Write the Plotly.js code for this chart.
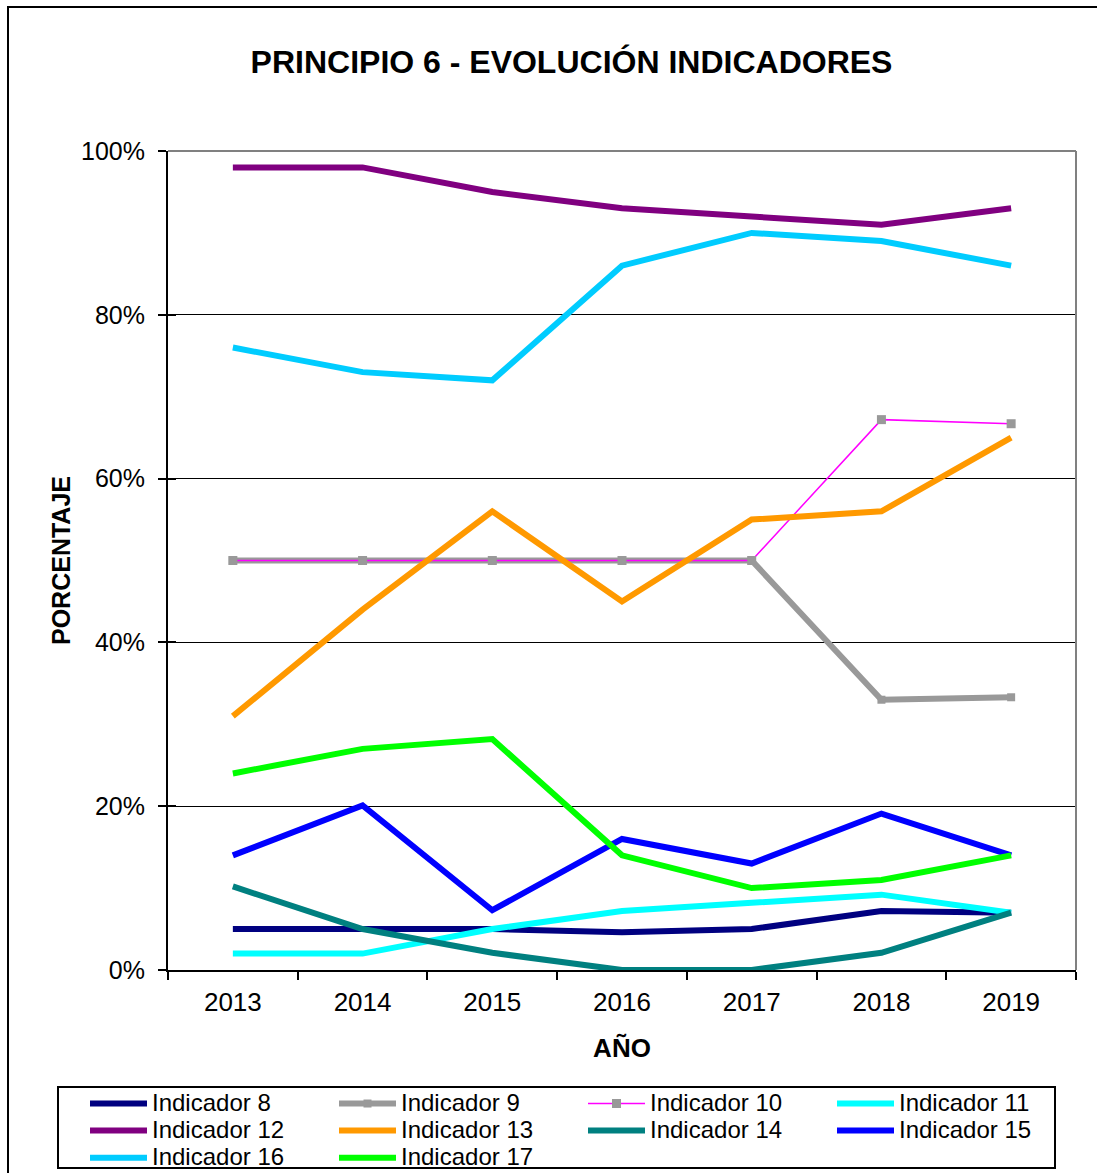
<!DOCTYPE html>
<html>
<head>
<meta charset="utf-8">
<script src="https://cdn.plot.ly/plotly-3.0.1.min.js"></script>
<style>
html,body{margin:0;padding:0;background:#fff;}
#chart{width:1097px;height:1173px;}
</style>
</head>
<body>
<div id="chart"></div>
<script>
const years = ['2013','2014','2015','2016','2017','2018','2019'];
const yTickVals = [0, 20, 40, 60, 80, 100];
const yTickText = ['0%', '20%', '40%', '60%', '80%', '100%'];

const ind8  = [5, 5, 5, 4.6, 5, 7.2, 7];
const ind9  = [50, 50, 50, 50, 50, 33, 33.3];
const ind10 = [50, 50, 50, 50, 50, 67.2, 66.7];
const ind11 = [2, 2, 5, 7.2, 8.2, 9.2, 7];
const ind12 = [98, 98, 95, 93, 92, 91, 93];
const ind13 = [31, 44, 56, 45, 55, 56, 65];
const ind14 = [10.2, 5, 2.1, 0, 0, 2.1, 7];
const ind15 = [14, 20.1, 7.3, 16, 13, 19.1, 14];
const ind16 = [76, 73, 72, 86, 90, 89, 86];
const ind17 = [24, 27, 28.2, 14, 10, 11, 14];

const seriesNames = ['Indicador 8','Indicador 9','Indicador 10','Indicador 11','Indicador 12',
  'Indicador 13','Indicador 14','Indicador 15','Indicador 16','Indicador 17'];
const seriesData = [ind8, ind9, ind10, ind11, ind12, ind13, ind14, ind15, ind16, ind17];
const seriesColors = ['#000080','#999999','#FF00FF','#00FFFF','#800080',
  '#FF9900','#008080','#0000FF','#00CCFF','#00FF00'];

const traces = seriesData.map((vals, i) => {
  const t = {
    x: years, y: vals,
    name: '<span style="font-size:24px">' + seriesNames[i] + '</span>',
    type: 'scatter', mode: 'lines',
    line: {color: seriesColors[i], width: 6},
    hoverinfo: 'x+y'
  };
  if (seriesNames[i] === 'Indicador 9') {
    t.mode = 'lines+markers';
    t.marker = {symbol: 'square', size: 8, color: '#999999'};
  }
  if (seriesNames[i] === 'Indicador 10') {
    t.mode = 'lines+markers';
    t.line = {color: '#FF00FF', width: 1.5};
    t.marker = {symbol: 'square', size: 9, color: '#999999'};
  }
  return t;
});

// inside-tick overlay axis (ticks cross the y axis in the reference)
traces.push({x: years, y: [null,null,null,null,null,null,null], yaxis: 'y2', xaxis: 'x',
  showlegend: false, hoverinfo: 'skip', type: 'scatter', mode: 'lines'});

const font = 'Arial, "Liberation Sans", sans-serif';
const px = v => (v - 168) / 908;      // pixel x -> paper x
const py = v => (970 - v) / 819;      // pixel y -> paper y

const layout = {
  width: 1097, height: 1173,
  margin: {l: 168, r: 21, t: 151, b: 203, autoexpand: false},
  paper_bgcolor: '#ffffff', plot_bgcolor: '#ffffff',
  font: {family: font, color: '#000000'},
  title: {
    text: '<b>PRINCIPIO 6 - EVOLUCIÓN INDICADORES</b>',
    font: {family: font, size: 32, color: '#000000'},
    x: px(571.5), xref: 'paper', xanchor: 'center',
    y: 1 - 62 / 1173, yref: 'container', yanchor: 'middle'
  },
  xaxis: {
    type: 'category', categoryorder: 'array', categoryarray: years,
    range: [-0.5, 6.5], automargin: false,
    showline: true, linecolor: '#000000', linewidth: 2,
    ticks: 'outside', tickson: 'boundaries', ticklen: 8, tickwidth: 2, tickcolor: '#000000',
    tickfont: {family: font, size: 26, color: '#000000'},
    ticklabelstandoff: 8,
    showgrid: false, zeroline: false,
    title: {text: '<b>AÑO</b>', font: {family: font, size: 26, color: '#000000'}, standoff: 23}
  },
  yaxis: {
    range: [0, 100], tickvals: yTickVals, ticktext: yTickText, automargin: false,
    showline: true, linecolor: '#000000', linewidth: 2,
    ticks: 'outside', ticklen: 8, tickwidth: 2, tickcolor: '#000000',
    tickfont: {family: font, size: 25, color: '#000000'},
    ticklabelstandoff: 8,
    showgrid: true, gridcolor: '#000000', gridwidth: 1.2,
    zeroline: false,
    title: {text: '<b>PORCENTAJE</b>', font: {family: font, size: 25, color: '#000000'}, standoff: 3}
  },
  yaxis2: {
    overlaying: 'y', range: [0, 100], tickvals: yTickVals, showticklabels: false,
    ticks: 'inside', ticklen: 8, tickwidth: 2, tickcolor: '#000000',
    showgrid: false, zeroline: false, showline: false
  },
  showlegend: true,
  legend: {
    orientation: 'h',
    x: px(85), xanchor: 'left',
    y: py(1085), yanchor: 'top',
    entrywidth: 177, entrywidthmode: 'pixels',
    itemwidth: 57,
    font: {family: font, size: 18.5, color: '#000000'},
    bgcolor: 'rgba(0,0,0,0)', borderwidth: 0,
    traceorder: 'normal'
  },
  shapes: [
    // gray plot-area border (top and right)
    {type: 'line', xref: 'paper', yref: 'paper', x0: 0, x1: 1, y0: 1, y1: 1,
     line: {color: '#808080', width: 2}, layer: 'above'},
    {type: 'line', xref: 'paper', yref: 'paper', x0: 1, x1: 1, y0: 0, y1: 1,
     line: {color: '#808080', width: 2}, layer: 'above'},
    // outer chart frame
    {type: 'rect', xref: 'paper', yref: 'paper',
     x0: px(8), x1: px(1120), y0: py(1200), y1: py(7),
     line: {color: '#000000', width: 2}, layer: 'below'},
    // legend box
    {type: 'rect', xref: 'paper', yref: 'paper',
     x0: px(58), x1: px(1055), y0: py(1168), y1: py(1087),
     line: {color: '#000000', width: 2}, fillcolor: '#ffffff', layer: 'below'}
  ]
};

Plotly.newPlot('chart', traces, layout, {displayModeBar: false, staticPlot: true});
</script>
</body>
</html>
